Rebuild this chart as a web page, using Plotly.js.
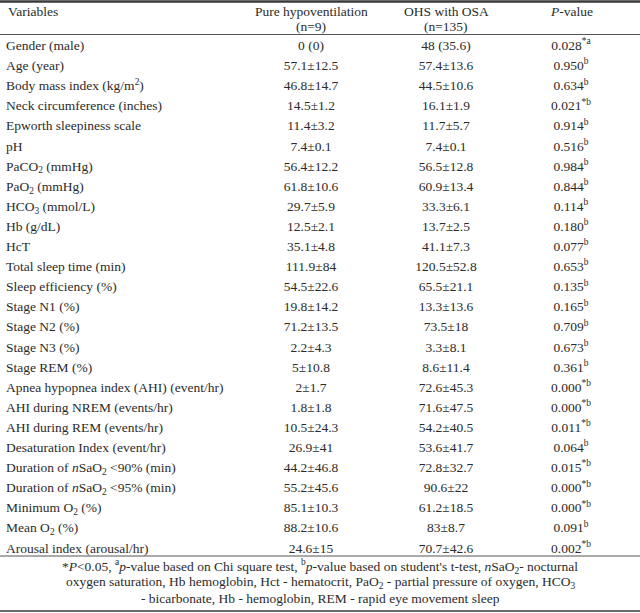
<!DOCTYPE html>
<html>
<head>
<meta charset="utf-8">
<script src="https://cdn.plot.ly/plotly-3.0.1.min.js"></script>
<style>html,body{margin:0;padding:0;background:#fff;}#chart{width:640px;height:613px;}</style>
</head>
<body>
<div id="chart"></div>
<script>
const headerLine1 = ["Variables", "Pure hypoventilation", "OHS with OSA", "<i>P</i>-value"];
const headerLine2 = ["", "(n=9)", "(n=135)", ""];

const variables = [
  "Gender (male)",
  "Age (year)",
  "Body mass index (kg/m<sup>2</sup>)",
  "Neck circumference (inches)",
  "Epworth sleepiness scale",
  "pH",
  "PaCO<sub>2</sub> (mmHg)",
  "PaO<sub>2</sub> (mmHg)",
  "HCO<sub>3</sub> (mmol/L)",
  "Hb (g/dL)",
  "HcT",
  "Total sleep time (min)",
  "Sleep efficiency (%)",
  "Stage N1 (%)",
  "Stage N2 (%)",
  "Stage N3 (%)",
  "Stage REM (%)",
  "Apnea hypopnea index (AHI) (event/hr)",
  "AHI during NREM (events/hr)",
  "AHI during REM (events/hr)",
  "Desaturation Index (event/hr)",
  "Duration of <i>n</i>SaO<sub>2</sub> <90% (min)",
  "Duration of <i>n</i>SaO<sub>2</sub> <95% (min)",
  "Minimum O<sub>2</sub> (%)",
  "Mean O<sub>2</sub> (%)",
  "Arousal index (arousal/hr)"
];

const pureHypoventilation = [
  "0 (0)", "57.1±12.5", "46.8±14.7", "14.5±1.2", "11.4±3.2", "7.4±0.1",
  "56.4±12.2", "61.8±10.6", "29.7±5.9", "12.5±2.1", "35.1±4.8", "111.9±84",
  "54.5±22.6", "19.8±14.2", "71.2±13.5", "2.2±4.3", "5±10.8", "2±1.7",
  "1.8±1.8", "10.5±24.3", "26.9±41", "44.2±46.8", "55.2±45.6", "85.1±10.3",
  "88.2±10.6", "24.6±15"
];

const ohsWithOsa = [
  "48 (35.6)", "57.4±13.6", "44.5±10.6", "16.1±1.9", "11.7±5.7", "7.4±0.1",
  "56.5±12.8", "60.9±13.4", "33.3±6.1", "13.7±2.5", "41.1±7.3", "120.5±52.8",
  "65.5±21.1", "13.3±13.6", "73.5±18", "3.3±8.1", "8.6±11.4", "72.6±45.3",
  "71.6±47.5", "54.2±40.5", "53.6±41.7", "72.8±32.7", "90.6±22", "61.2±18.5",
  "83±8.7", "70.7±42.6"
];

const pValues = [
  "0.028", "0.950", "0.634", "0.021", "0.914", "0.516", "0.984", "0.844",
  "0.114", "0.180", "0.077", "0.653", "0.135", "0.165", "0.709", "0.673",
  "0.361", "0.000", "0.000", "0.011", "0.064", "0.015", "0.000", "0.000",
  "0.091", "0.002"
];

const pNotes = [
  "*a", "b", "b", "*b", "b", "b", "b", "b", "b", "b", "b", "b", "b", "b",
  "b", "b", "b", "*b", "*b", "*b", "b", "*b", "*b", "*b", "b", "*b"
];

const footnoteLines = [
  "*<i>P</i><0.05, <sup>a</sup><i>p</i>-value based on Chi square test, <sup>b</sup><i>p</i>-value based on student's t-test, <i>n</i>SaO<sub>2</sub>- nocturnal",
  "oxygen saturation, Hb hemoglobin, Hct - hematocrit, PaO<sub>2</sub> - partial pressure of oxygen, HCO<sub>3</sub>",
  "- bicarbonate, Hb - hemoglobin, REM - rapid eye movement sleep"
];

// ---- layout / style (pixel geometry) ----
const W = 640, H = 613;
const FONT = "Liberation Serif, Times New Roman, serif";
const TXT = "#2b2b2b";
const FS = 13.5;
const colX = [6, 311, 446, 571];          // column anchors in px
const rowTop = 36.6, rowH = 20.1;          // body rows
const header1Y = 12, header2Y = 26.5;
const footY = [566, 582, 598];

const pCol = pValues.map((v, i) => v + "<sup>" + pNotes[i] + "</sup>");
const nRows = variables.length;
const py = px => 1 - px / H;

function textTrace(xpos, texts, pos) {
  return {
    type: "scatter", mode: "text",
    x: variables.map(() => xpos),
    y: variables,
    text: texts,
    textposition: pos,
    textfont: {family: FONT, size: FS, color: TXT},
    hoverinfo: "skip", showlegend: false, cliponaxis: false
  };
}

const traces = [
  textTrace(colX[0], variables, "middle right"),
  textTrace(colX[1], pureHypoventilation, "middle center"),
  textTrace(colX[2], ohsWithOsa, "middle center"),
  textTrace(colX[3], pCol, "middle center")
];

const annotations = [];
headerLine1.forEach((t, i) => {
  annotations.push({xref: "x", yref: "paper", x: colX[i], y: py(header1Y),
    xanchor: i === 0 ? "left" : "center", yanchor: "middle", text: t, showarrow: false,
    font: {family: FONT, size: FS, color: TXT}});
  if (headerLine2[i]) annotations.push({xref: "x", yref: "paper", x: colX[i], y: py(header2Y),
    xanchor: "center", yanchor: "middle", text: headerLine2[i], showarrow: false,
    font: {family: FONT, size: FS, color: TXT}});
});
footnoteLines.forEach((t, i) => {
  annotations.push({xref: "paper", yref: "paper", x: 0.5, y: py(footY[i]),
    xanchor: "center", yanchor: "middle", text: t, showarrow: false,
    font: {family: FONT, size: FS, color: TXT}});
});

const rule = (y, w, c) => ({type: "line", xref: "paper", yref: "paper", x0: 0, x1: 1,
  y0: py(y), y1: py(y), line: {color: c, width: w}});

const layout = {
  width: W, height: H,
  margin: {l: 0, r: 0, t: 0, b: 0, pad: 0},
  paper_bgcolor: "white", plot_bgcolor: "white",
  showlegend: false,
  xaxis: {range: [0, W], domain: [0, 1], visible: false, fixedrange: true},
  yaxis: {type: "category", categoryorder: "array", categoryarray: variables,
    range: [nRows - 0.5, -0.5], domain: [py(rowTop + nRows * rowH), py(rowTop)],
    visible: false, fixedrange: true},
  shapes: [
    rule(1.5, 2.5, "#3a3a3a"),
    rule(34.5, 1, "#555555"),
    rule(556, 1, "#555555"),
    rule(611, 1.5, "#3a3a3a")
  ],
  annotations: annotations
};

Plotly.newPlot("chart", traces, layout, {displayModeBar: false, staticPlot: true});
</script>
</body>
</html>
